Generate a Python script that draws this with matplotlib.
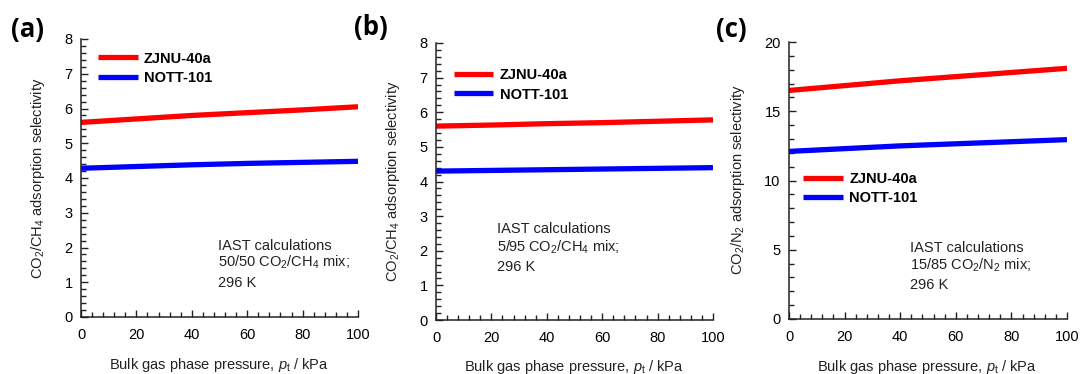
import matplotlib
matplotlib.use("Agg")
import matplotlib.pyplot as plt
from matplotlib.ticker import MultipleLocator

plt.rcParams['font.family'] = ['Liberation Sans', 'DejaVu Sans']
plt.rcParams['mathtext.fontset'] = 'custom'
plt.rcParams['mathtext.rm'] = 'Liberation Sans'
plt.rcParams['mathtext.it'] = 'Liberation Sans:italic'
plt.rcParams['mathtext.bf'] = 'Liberation Sans:bold'

# Data
pressure = [0, 20, 40, 60, 80, 100]
a_zjnu = [5.60, 5.70, 5.80, 5.88, 5.96, 6.05]
a_nott = [4.28, 4.33, 4.38, 4.42, 4.45, 4.48]
b_zjnu = [5.60, 5.63, 5.67, 5.70, 5.74, 5.78]
b_nott = [4.30, 4.32, 4.34, 4.36, 4.38, 4.40]
c_zjnu = [16.50, 16.85, 17.20, 17.50, 17.80, 18.10]
c_nott = [12.10, 12.30, 12.50, 12.65, 12.80, 12.95]
series_names = ['ZJNU-40a', 'NOTT-101']
panel_labels = ['(a)', '(b)', '(c)']
notes = [
    ['IAST calculations', r'50/50 CO$_2$/CH$_4$ mix;', '296 K'],
    ['IAST calculations', r'5/95 CO$_2$/CH$_4$ mix;', '296 K'],
    ['IAST calculations', r'15/85 CO$_2$/N$_2$ mix;', '296 K'],
]
ylabels = [r'CO$_2$/CH$_4$ adsorption selectivity',
           r'CO$_2$/CH$_4$ adsorption selectivity',
           r'CO$_2$/N$_2$ adsorption selectivity']
xlabel = r'Bulk gas phase pressure, $p_\mathrm{t}$ / kPa'

W, H = 1080, 374
fig = plt.figure(figsize=(W / 100, H / 100), dpi=100)

def px_axes(l, t, r, b):
    return fig.add_axes([l / W, 1 - b / H, (r - l) / W, (b - t) / H])

axes_px = [(81, 39, 358, 317), (436, 43, 713, 320), (789, 42, 1067, 319)]
data = [(a_zjnu, a_nott), (b_zjnu, b_nott), (c_zjnu, c_nott)]
ylims = [(0, 8), (0, 8), (0, 20)]
ymajor = [1, 1, 5]
yminor = [0.2, 0.2, 1]
legend_anchor = [(0.062, 0.955), (0.065, 0.908), (0.052, 0.530)]
note_pos = [(0.495, [0.256, 0.197, 0.123]),
            (0.220, [0.328, 0.263, 0.191]),
            (0.435, [0.255, 0.195, 0.123])]
ylabel_x = [38, 393, 738]
ylabel_y = [178, 181, 180]
xlabel_pos = [(219, 365), (574, 367), (927, 367)]
plabel_pos = [(28, 30), (371, 27), (731, 30)]

for i in range(3):
    ax = px_axes(*axes_px[i])
    z, n = data[i]
    ax.plot(pressure, z, color='#ff0000', lw=3.8, label=series_names[0], solid_capstyle='butt')
    ax.plot(pressure, n, color='#0000ff', lw=3.8, label=series_names[1], solid_capstyle='butt')
    ax.set_xlim(0, 100)
    ax.set_ylim(*ylims[i])
    ax.xaxis.set_major_locator(MultipleLocator(20))
    ax.xaxis.set_minor_locator(MultipleLocator(4))
    ax.yaxis.set_major_locator(MultipleLocator(ymajor[i]))
    ax.yaxis.set_minor_locator(MultipleLocator(yminor[i]))
    ax.tick_params(which='both', direction='in', labelsize=10.5, color='#222222')
    ax.tick_params(which='major', length=5, width=1)
    ax.tick_params(which='minor', length=3.5, width=1)
    ax.tick_params(axis='x', pad=8)
    ax.tick_params(axis='y', pad=6)
    for s in ['top', 'right']:
        ax.spines[s].set_visible(False)
    for s in ['left', 'bottom']:
        ax.spines[s].set_linewidth(1.1)
        ax.spines[s].set_color('#222222')
    ax.legend(loc='upper left', bbox_to_anchor=legend_anchor[i], frameon=False,
              borderpad=0, borderaxespad=0, handlelength=2.7, handletextpad=0.45,
              labelspacing=0.35, prop={'weight': 'bold', 'size': 10.5})
    nx, nys = note_pos[i]
    for txt, ny in zip(notes[i], nys):
        ax.text(nx, ny, txt, transform=ax.transAxes, fontsize=10.5, va='center', ha='left',
                color='#222222')
    fig.text(ylabel_x[i] / W, 1 - ylabel_y[i] / H, ylabels[i], rotation=90,
             ha='center', va='center', fontsize=10.5, color='#222222')
    fig.text(xlabel_pos[i][0] / W, 1 - xlabel_pos[i][1] / H, xlabel,
             ha='center', va='center', fontsize=10.5, color='#222222')
    fig.text(plabel_pos[i][0] / W, 1 - plabel_pos[i][1] / H, panel_labels[i],
             ha='center', va='center', fontsize=18.5, fontweight='bold',
             family=['Open Sans', 'DejaVu Sans'])

fig.savefig('out.png', dpi=100)
